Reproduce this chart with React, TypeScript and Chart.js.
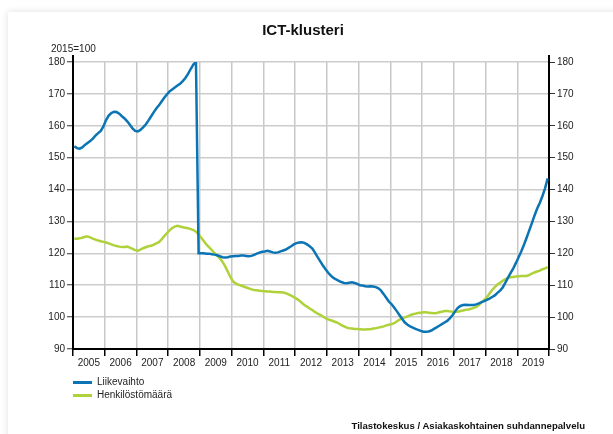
import React, { useEffect, useRef } from "react";
import { Chart, registerables } from "chart.js";

Chart.register(...registerables);

const title = "ICT-klusteri";
const unitLabel = "2015=100";
const sourceText = "Tilastokeskus / Asiakaskohtainen suhdannepalvelu";
const seriesNames = ["Liikevaihto", "Henkilöstömäärä"];
const seriesColors = ["#0a74b4", "#afd13a"];
const startYear = 2005;
const endYear = 2020;
const yearLabels = ["2005", "2006", "2007", "2008", "2009", "2010", "2011", "2012", "2013", "2014", "2015", "2016", "2017", "2018", "2019"];
const yMin = 90;
const yMax = 180;
const yStep = 10;

// monthly values, 2005-01 .. 2019-12
const liikevaihto = [
  153.6, 153.0, 152.8, 153.2, 154.0, 154.6, 155.2, 156.0, 156.9, 157.7, 158.4, 159.8,
  161.8, 163.2, 164.0, 164.4, 164.3, 163.8, 163.0, 162.3, 161.4, 160.3, 159.2, 158.4,
  158.2, 158.7, 159.5, 160.4, 161.6, 162.9, 164.2, 165.4, 166.4, 167.6, 168.8, 169.8,
  170.8, 171.4, 172.0, 172.6, 173.2, 174.0, 175.0, 176.3, 177.8, 179.2, 180.0, 120.0,
  120.0, 120.0, 119.9, 119.9, 119.7, 119.6, 119.4, 119.1, 118.8, 118.7, 118.8, 119.0,
  119.1, 119.2, 119.2, 119.3, 119.3, 119.2, 119.1, 119.2, 119.5, 119.9, 120.2, 120.5,
  120.6, 120.8, 120.6, 120.3, 120.2, 120.3, 120.6, 120.9, 121.2, 121.7, 122.2, 122.8,
  123.2, 123.4, 123.5, 123.3, 122.8, 122.2, 121.5, 120.2, 118.8, 117.5, 116.2, 115.0,
  113.9, 113.0, 112.3, 111.8, 111.4, 111.0, 110.7, 110.6, 110.8, 110.9, 110.7, 110.4,
  110.0, 109.9, 109.7, 109.6, 109.7, 109.6, 109.4, 109.0, 108.3, 107.2, 106.0, 104.8,
  104.0, 102.9, 101.8, 100.6, 99.4, 98.3, 97.6, 97.1, 96.7, 96.3, 96.0, 95.7,
  95.4, 95.4, 95.5, 95.8, 96.3, 96.8, 97.3, 97.8, 98.3, 98.8, 99.6, 100.6,
  101.8, 102.9, 103.5, 103.8, 103.9, 103.8, 103.8, 103.8, 104.0, 104.3, 104.7, 105.0,
  105.4, 105.8, 106.3, 106.8, 107.6, 108.3, 109.3, 110.8, 112.4, 113.9, 115.3, 117.0,
  118.8, 120.6, 122.6, 124.8, 127.1, 129.4, 131.8, 134.0, 135.8, 137.9, 140.4, 143.5,
];

const henkilostomaara = [
  124.6, 124.6, 124.7, 124.9, 125.2, 125.3, 125.0, 124.6, 124.3, 124.0, 123.8, 123.6,
  123.4, 123.1, 122.8, 122.5, 122.3, 122.1, 122.0, 122.0, 122.1, 121.8, 121.4, 121.0,
  120.8, 121.2, 121.6, 121.9, 122.2, 122.4, 122.7, 123.1, 123.5, 124.4, 125.4, 126.3,
  127.2, 127.9, 128.4, 128.6, 128.4, 128.2, 128.0, 127.9, 127.6, 127.3, 126.8, 125.9,
  124.9, 123.8, 122.7, 121.9, 121.0, 120.1, 119.3, 118.4, 117.4, 116.0, 114.3, 112.6,
  111.2, 110.6, 110.2, 109.9, 109.6, 109.3, 109.0, 108.7, 108.5, 108.4, 108.3, 108.2,
  108.1, 108.0, 108.0, 107.9, 107.9, 107.8, 107.8, 107.7, 107.5, 107.1, 106.7, 106.3,
  105.8, 105.2, 104.5, 103.8, 103.3, 102.7, 102.2, 101.6, 101.1, 100.7, 100.2, 99.7,
  99.3, 99.0, 98.7, 98.4, 98.0, 97.5, 97.1, 96.7, 96.5, 96.4, 96.3, 96.3,
  96.2, 96.1, 96.1, 96.2, 96.2, 96.4, 96.5, 96.7, 96.9, 97.1, 97.4, 97.6,
  97.8, 98.1, 98.7, 99.2, 99.6, 99.9, 100.2, 100.6, 100.9, 101.1, 101.3, 101.4,
  101.5, 101.5, 101.4, 101.3, 101.2, 101.3, 101.5, 101.7, 101.9, 101.9, 101.8, 101.7,
  101.7, 101.7, 101.9, 102.1, 102.3, 102.4, 102.6, 102.9, 103.2, 103.8, 104.6, 105.4,
  106.2, 107.4, 108.5, 109.4, 110.2, 110.8, 111.4, 111.9, 112.3, 112.5, 112.6, 112.7,
  112.8, 112.9, 112.9, 112.9, 113.2, 113.6, 114.0, 114.3, 114.6, 115.0, 115.3, 115.7,
];

const FONT = "'Liberation Sans', Arial, sans-serif";
const W = 613;
const H = 434;
const AREA_LEFT = 73;
const AREA_RIGHT = 549;
const AREA_TOP = 62;
const AREA_BOTTOM = 349;
const X_AXIS_H = 22;

const toPoints = (vals: number[]) =>
  vals.map((v, i) => ({ x: startYear + (i + 0.5) / 12, y: v }));

const axisExtend = {
  id: "axisExtend",
  afterDraw(chart: any) {
    const { ctx, chartArea } = chart;
    ctx.save();
    ctx.strokeStyle = "#000";
    ctx.lineWidth = 2;
    ctx.beginPath();
    ctx.moveTo(chartArea.left, 55);
    ctx.lineTo(chartArea.left, chartArea.top);
    ctx.moveTo(chartArea.right, 55);
    ctx.lineTo(chartArea.right, chartArea.top);
    ctx.stroke();
    ctx.restore();
  },
};

export default function App() {
  const ref = useRef<HTMLCanvasElement | null>(null);

  useEffect(() => {
    if (!ref.current) return;
    const yearWidth = (AREA_RIGHT - AREA_LEFT) / (endYear - startYear);
    const chart = new Chart(ref.current, {
      type: "line",
      data: {
        datasets: [
          {
            label: seriesNames[0],
            data: toPoints(liikevaihto),
            borderColor: seriesColors[0],
            borderWidth: 2.5,
            pointRadius: 0,
            tension: 0,
          },
          {
            label: seriesNames[1],
            data: toPoints(henkilostomaara),
            borderColor: seriesColors[1],
            borderWidth: 2.5,
            pointRadius: 0,
            tension: 0,
          },
        ],
      },
      options: {
        animation: false,
        responsive: false,
        layout: {
          padding: { left: 0, right: 0, top: AREA_TOP, bottom: H - AREA_BOTTOM - X_AXIS_H },
        },
        plugins: {
          legend: { display: false },
          tooltip: { enabled: false },
          title: { display: false },
        },
        scales: {
          x: {
            type: "linear",
            min: startYear,
            max: endYear,
            afterFit: (s: any) => {
              s.height = X_AXIS_H;
            },
            ticks: {
              stepSize: 1,
              autoSkip: false,
              maxRotation: 0,
              labelOffset: yearWidth / 2,
              padding: 1,
              color: "#222",
              font: { family: FONT, size: 10 },
              callback: (_v: any, idx: number) => yearLabels[idx] ?? "",
            },
            grid: {
              color: "#c8c8c8",
              lineWidth: 1.5,
              tickLength: 7,
              tickColor: "#000",
              tickWidth: 1.5,
            },
            border: { color: "#000", width: 2 },
          },
          y: {
            position: "left",
            min: yMin,
            max: yMax,
            afterFit: (s: any) => {
              s.width = AREA_LEFT;
            },
            ticks: {
              stepSize: yStep,
              padding: 2,
              color: "#222",
              font: { family: FONT, size: 10 },
            },
            grid: {
              color: "#cccccc",
              lineWidth: 1.5,
              tickLength: 6,
              tickColor: "#333",
              tickWidth: 1,
            },
            border: { color: "#000", width: 2 },
          },
          y2: {
            position: "right",
            min: yMin,
            max: yMax,
            afterFit: (s: any) => {
              s.width = W - AREA_RIGHT;
            },
            ticks: {
              stepSize: yStep,
              padding: 2,
              color: "#222",
              font: { family: FONT, size: 10 },
            },
            grid: {
              drawOnChartArea: false,
              tickLength: 6,
              tickColor: "#333",
              tickWidth: 1,
            },
            border: { color: "#000", width: 2 },
          },
        },
      },
      plugins: [axisExtend],
    });
    return () => chart.destroy();
  }, []);

  const textBase: React.CSSProperties = {
    position: "absolute",
    fontFamily: FONT,
    color: "#222",
    whiteSpace: "nowrap",
    lineHeight: 1,
  };

  return (
    <div
      style={{
        position: "fixed",
        left: 0,
        top: 0,
        width: W,
        height: H,
        overflow: "hidden",
        background: "#fff",
      }}
    >
      <div
        style={{
          position: "absolute",
          left: 8,
          top: 12,
          width: W + 20,
          height: H + 20,
          background: "#fff",
          boxShadow: "0 0 7px rgba(0,0,0,0.13)",
        }}
      />
      <canvas ref={ref} width={W} height={H} style={{ position: "absolute", left: 0, top: 0 }} />
      <div style={{ ...textBase, left: 0, width: 606, top: 22, textAlign: "center", fontWeight: "bold", fontSize: 15, color: "#111" }}>
        {title}
      </div>
      <div style={{ ...textBase, left: 51, top: 44, fontSize: 10 }}>{unitLabel}</div>
      {seriesNames.map((n, i) => (
        <div key={n} style={{ ...textBase, left: 73, top: 377 + i * 13, fontSize: 10, display: "flex", alignItems: "center" }}>
          <span style={{ display: "inline-block", width: 19, height: 3, background: seriesColors[i], marginRight: 5 }} />
          <span>{n}</span>
        </div>
      ))}
      <div style={{ ...textBase, right: 28, top: 421, fontSize: 9.6, fontWeight: "bold", color: "#111" }}>{sourceText}</div>
    </div>
  );
}
